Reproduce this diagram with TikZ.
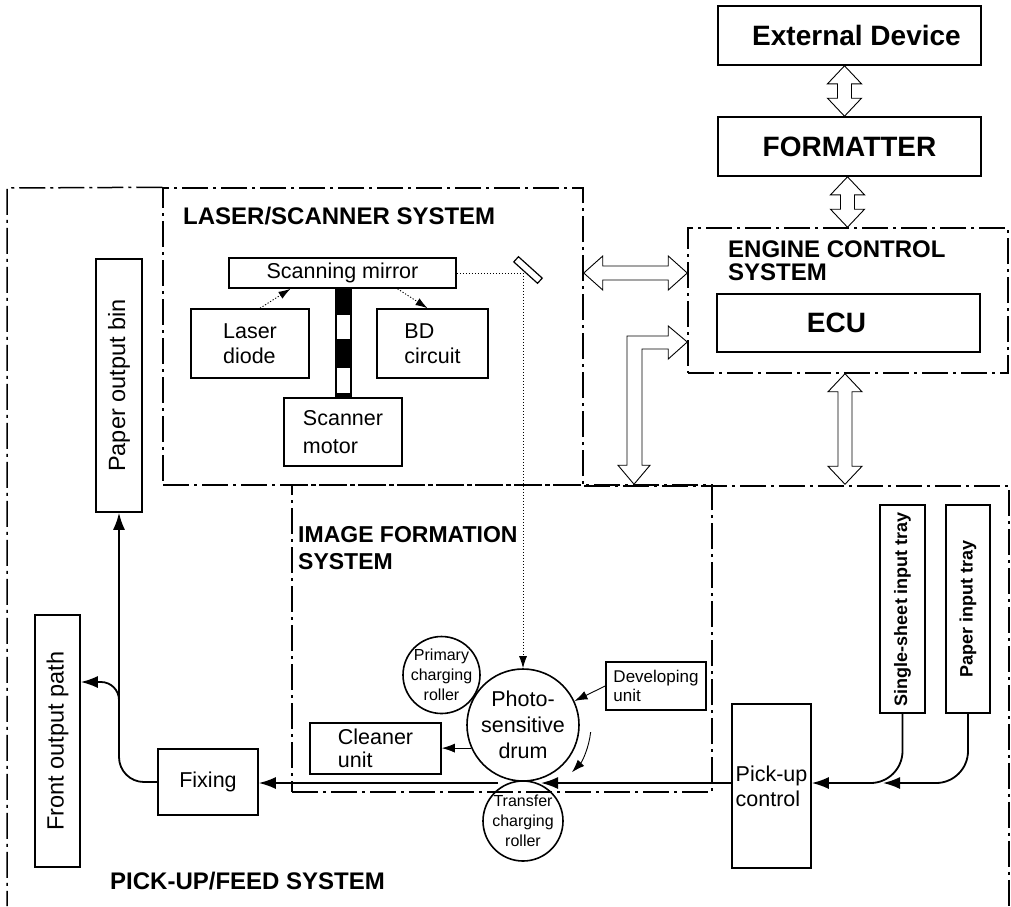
\documentclass[tikz,border=0pt]{standalone}
\usepackage{fontspec}
\setmainfont{Liberation Sans}
\usepackage{graphicx}
\usetikzlibrary{arrows.meta,positioning,calc}

% hollow double arrows between blocks
\newcommand{\vdbl}[2]{\draw[hollow] let \p1=(#1), \p2=(#2) in (\x1,\y1) -- (\x1+17pt,\y1-18pt) -- (\x1+7pt,\y1-18pt) -- (\x1+7pt,\y2+18pt) -- (\x1+17pt,\y2+18pt) -- (\x1,\y2) -- (\x1-17pt,\y2+18pt) -- (\x1-7pt,\y2+18pt) -- (\x1-7pt,\y1-18pt) -- (\x1-17pt,\y1-18pt) -- cycle;}
\newcommand{\hdbl}[2]{\draw[hollow] let \p1=(#1), \p2=(#2) in (\x1,\y1) -- (\x1+19pt,\y1+17pt) -- (\x1+19pt,\y1+7pt) -- (\x2-19pt,\y1+7pt) -- (\x2-19pt,\y1+17pt) -- (\x2,\y1) -- (\x2-19pt,\y1-17pt) -- (\x2-19pt,\y1-7pt) -- (\x1+19pt,\y1-7pt) -- (\x1+19pt,\y1-17pt) -- cycle;}

\begin{document}
\begin{tikzpicture}[x=1pt, y=-1pt,
  box/.style={draw, line width=1.6pt, inner sep=0pt, align=left, font=\fontsize{21.5}{25}\selectfont},
  bigbox/.style={draw, line width=1.6pt, inner sep=0pt, minimum width=263pt, minimum height=59pt, font=\fontsize{28}{30}\selectfont\bfseries},
  sys/.style={draw, line width=1.5pt, dash pattern=on 26pt off 5pt on 3pt off 5pt, inner sep=0pt},
  title/.style={anchor=north west, inner sep=0pt, align=left, font=\fontsize{24}{23}\selectfont\bfseries},
  roll/.style={draw, circle, line width=1.6pt, inner sep=0pt},
  roller/.style={align=center, inner sep=0pt, font=\fontsize{16}{20}\selectfont},
  hollow/.style={draw, line width=0.9pt, fill=white},
  paper/.style={line width=1.8pt, -{Latex[length=17pt, width=12pt]}},
  beam/.style={line width=0.9pt, dash pattern=on 1.2pt off 1.8pt, -{Latex[length=12pt, width=8pt]}},
  thinarr/.style={line width=0.9pt, -{Latex[length=13pt, width=9pt]}}]
\useasboundingbox (0,0) rectangle (1011,906);

% controller side
\node[bigbox] (ext) at (849.5,35.5) {\hspace*{14pt}External Device};
\node[bigbox] (fmt) at (849.5,146.5) {FORMATTER};
\node[sys, minimum width=320pt, minimum height=145pt] (ecs) at (848,300.5) {};
\node[title] (ecsT) at (728,241) {ENGINE CONTROL\\SYSTEM};
\node[bigbox, minimum height=58pt] (ecu) at (848.5,323) {ECU\hspace*{24pt}};

% system blocks
\node[sys, minimum width=420pt, minimum height=297pt] (laser) at (373,336.5) {};
\node[title] (laserT) at (183,207) {LASER/SCANNER SYSTEM};
\node[sys, minimum width=420pt, minimum height=307pt] (img) at (502,638.5) {};
\node[title, font=\fontsize{23}{27.5}\selectfont\bfseries] (imgT) at (298,526) {IMAGE FORMATION\\SYSTEM};
\draw[sys] (laser.north west) -- (7,188) -- (7,906);
\draw[sys] (laser.south east) -- (ecs.east |- laser.south) -- (ecs.east |- 0,906);
\node[title] (feedT) at (110,872) {PICK-UP/FEED SYSTEM};

% laser/scanner
\node[box, minimum width=227pt, minimum height=30pt] (mirror) at (342.5,273) {Scanning mirror};
\node[box, minimum width=118pt, minimum height=69pt] (diode) at (250,343.5) {Laser\\diode};
\node[box, minimum width=111pt, minimum height=69pt] (bd) at (432.5,343.5) {BD\\circuit};
\node[box, minimum width=118pt, minimum height=68pt, font=\fontsize{21.5}{28}\selectfont] (motor) at (343,432) {Scanner\\motor};
\foreach \a/\b in {288/315,339/368,393/398}
  \fill (336,\a) rectangle (351,\b);
\node[draw, line width=1.2pt, inner sep=0pt, minimum width=15pt, minimum height=110pt] (shaft) at (343.5,343) {};
\draw[beam] ([xshift=10pt]diode.north) -- ([xshift=-52pt]mirror.south);
\draw[beam] ([xshift=55pt]mirror.south) -- ([xshift=-5pt]bd.north);

% image formation
\node[roll, minimum size=112pt, align=center, font=\fontsize{21.5}{26}\selectfont] (drum) at (523,725) {Photo-\\sensitive\\drum};
\node[roll, minimum size=77pt, label={[roller]center:Primary\\charging\\roller}] (pcr) at (441.5,675) {};
\node[roll, minimum size=80pt, label={[roller]center:Transfer\\charging\\roller}] (tcr) at (523,821) {};
\node[box, minimum width=100pt, minimum height=48pt, font=\fontsize{17}{19}\selectfont] (dev) at (656,686) {Developing\\unit};
\node[box, minimum width=131pt, minimum height=51pt, font=\fontsize{21.5}{23}\selectfont] (clean) at (375.5,748.5) {Cleaner\\unit};
\draw[beam] (mirror.east) -- (drum.north |- mirror.east) -- (drum.north);
\node[draw, fill=white, line width=1.2pt, inner sep=0pt, minimum width=32pt, minimum height=7pt, rotate=-42] (fold) at (528,270) {};
\draw[thinarr] (dev.west) -- (drum.25);
\draw[thinarr] (drum.204) -- (drum.204 -| clean.east);
\draw[thinarr] ([shift={(-6:68pt)}]drum.center) arc[start angle=-6, end angle=-44, radius=68pt];

% pick-up/feed
\node[box, minimum width=100pt, minimum height=66pt] (fix) at (208,782) {Fixing};
\node[box, minimum width=46pt, minimum height=253pt, font=\fontsize{23.5}{26}\selectfont] (bin) at (119,385.5) {\rotatebox{90}{Paper output bin}};
\node[box, minimum width=45pt, minimum height=252pt, font=\fontsize{23.5}{26}\selectfont] (front) at (57.5,741) {\rotatebox{90}{Front output path}};
\node[box, minimum width=79pt, minimum height=164pt] (pick) at (771.5,786) {Pick-up\\control};
\node[box, minimum width=45pt, minimum height=208pt, font=\fontsize{18}{20}\selectfont\bfseries] (single) at (902.5,609) {\rotatebox{90}{Single-sheet input tray}};
\node[box, minimum width=44pt, minimum height=208pt, font=\fontsize{18}{20}\selectfont\bfseries] (tray) at (968,609) {\rotatebox{90}{Paper input tray}};
\coordinate (nip) at (drum.south |- 0,783);
\coordinate (merge) at (883,783);
\draw[paper] (pick.west |- nip) -- ([xshift=18pt]nip);
\draw[paper] ([xshift=-25pt]nip) -- (fix.east |- nip);
\draw[paper, rounded corners=25pt] (fix.west) -| (bin.south);
\draw[paper, rounded corners=18pt] (bin.south |- fix.north) |- (front.east |- 0,682);
\draw[paper, rounded corners=32pt] (single.south) |- (pick.east |- nip);
\draw[paper, rounded corners=32pt] (tray.south) |- (merge);

% hollow arrows
\vdbl{[xshift=-5pt]ext.south}{fmt.north}
\vdbl{[xshift=-2pt]fmt.south}{ecs.north}
\vdbl{[xshift=-3pt]ecs.south}{ecs.south |- img.north}
\hdbl{laser.east |- mirror.east}{ecs.west |- mirror.east}
\coordinate (ecsL) at (ecs.west |- 0,342);
\coordinate (imgL) at (img.north -| 634,0);
\draw[hollow] let \p1=(ecsL), \p2=(imgL) in (\x1,\y1) -- (\x1-19pt,\y1+16pt) -- (\x1-19pt,\y1+6pt) -- (\x2-7pt,\y1+6pt) -- (\x2-7pt,\y2+19pt) -- (\x2-16pt,\y2+19pt) -- (\x2,\y2) -- (\x2+16pt,\y2+19pt) -- (\x2+8pt,\y2+19pt) -- (\x2+8pt,\y1-7pt) -- (\x1-19pt,\y1-7pt) -- (\x1-19pt,\y1-17pt) -- cycle;
\end{tikzpicture}
\end{document}
